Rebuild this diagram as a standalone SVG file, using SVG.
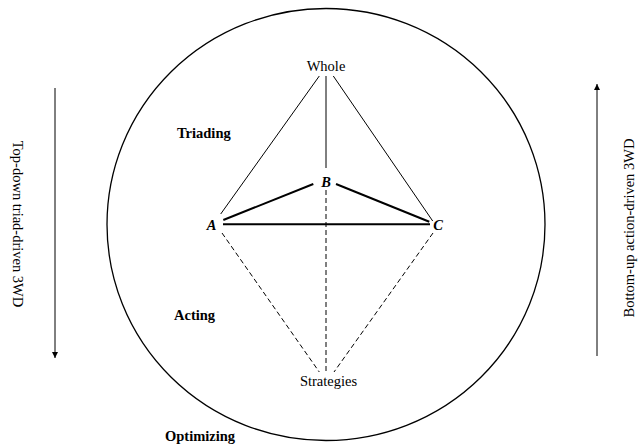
<svg xmlns="http://www.w3.org/2000/svg" width="638" height="448" viewBox="0 0 638 448">
<style>
text{font-family:"Liberation Serif","Times New Roman",serif;font-size:14.5px;fill:#000}
.b{font-weight:bold}
.bi{font-weight:bold;font-style:italic}
.thin{stroke:#000;stroke-width:1;fill:none}
.thick{stroke:#000;stroke-width:2;fill:none}
.dash{stroke:#000;stroke-width:1;fill:none;stroke-dasharray:5,3}
</style>
<defs>
<marker id="ah" viewBox="0 0 10 10" refX="10" refY="5" markerWidth="6" markerHeight="7" markerUnits="userSpaceOnUse" orient="auto"><path d="M0,0 L10,5 L0,10 z" fill="#000"/></marker>
</defs>
<g id="circle"><ellipse cx="326" cy="224.5" rx="219" ry="216" fill="none" stroke="#000" stroke-width="1.3"/></g>
<g id="connectors">
<line class="thin" x1="319.3" y1="76" x2="220.7" y2="214"/>
<line class="thin" x1="326" y1="76" x2="326" y2="168"/>
<line class="thin" x1="333.3" y1="76" x2="432.7" y2="221"/>
<line class="thick" x1="223.3" y1="220" x2="313.3" y2="184"/>
<line class="thick" x1="336" y1="184" x2="429.3" y2="221.7"/>
<line class="thick" x1="223" y1="224.3" x2="430" y2="224.3"/>
<line class="dash" x1="326" y1="190" x2="326" y2="372"/>
<line class="dash" x1="222" y1="233" x2="319.3" y2="372"/>
<line class="dash" x1="433" y1="233" x2="334" y2="372"/>
<line class="thin" x1="55" y1="88" x2="55" y2="358" marker-end="url(#ah)"/>
<line class="thin" x1="597" y1="356" x2="597" y2="84" marker-end="url(#ah)"/>
</g>
<g id="whole"><text x="326" y="71" text-anchor="middle">Whole</text></g>
<g id="nodeB"><text class="bi" x="326" y="187" text-anchor="middle">B</text></g>
<g id="nodeA"><text class="bi" x="211.5" y="229.5" text-anchor="middle">A</text></g>
<g id="nodeC"><text class="bi" x="438" y="229.5" text-anchor="middle">C</text></g>
<g id="strategies"><text x="328.5" y="386" text-anchor="middle">Strategies</text></g>
<g id="triading"><text class="b" x="177" y="138">Triading</text></g>
<g id="acting"><text class="b" x="174" y="320">Acting</text></g>
<g id="optimizing"><text class="b" x="165" y="441">Optimizing</text></g>
<g id="topdown"><text transform="translate(13,224) rotate(90)" text-anchor="middle">Top-down triad-driven 3WD</text></g>
<g id="bottomup"><text transform="translate(634,228) rotate(-90)" text-anchor="middle">Bottom-up action-driven 3WD</text></g>
</svg>
